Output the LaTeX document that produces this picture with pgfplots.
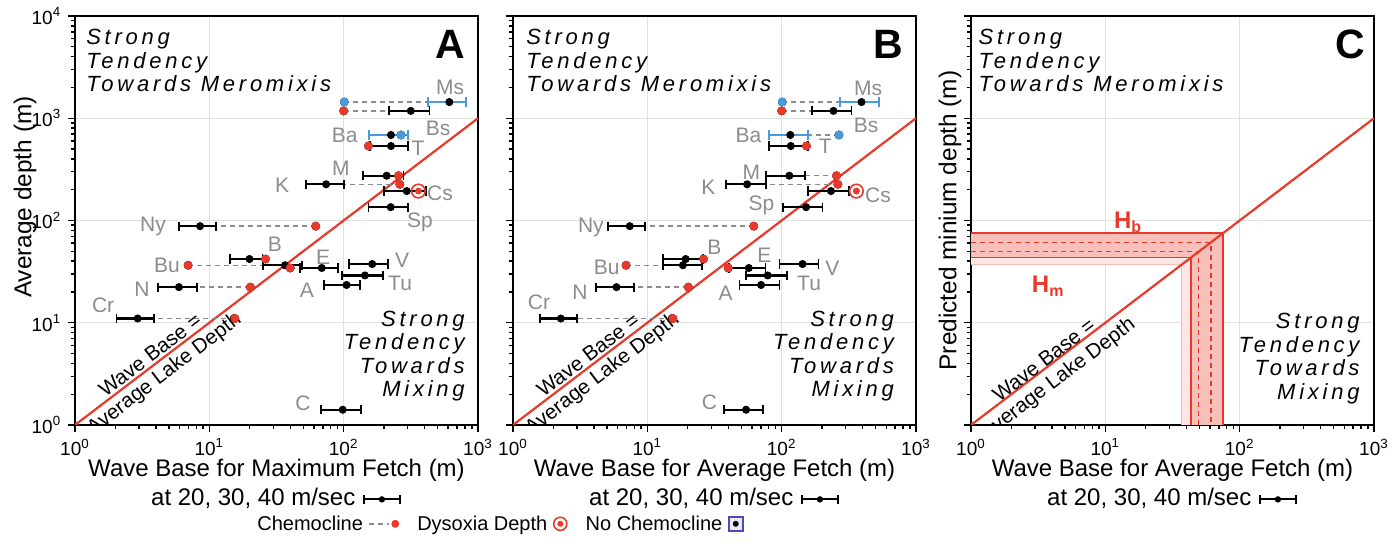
\documentclass[border=0pt]{standalone}
\usepackage{fontspec}
\setmainfont{Liberation Sans}
\newfontfamily\spit[LetterSpace=17]{Liberation Sans}
\usepackage{pgfplots}
\usepackage{pgfplotstable}
\pgfplotsset{compat=1.18}
\definecolor{lred}{HTML}{E8392B}
\definecolor{lblue}{HTML}{4A9BDB}
\definecolor{lgray}{HTML}{8C8C8C}

% ---------- Panel A (maximum fetch) ----------
\pgfplotstableread{
name y lo mid hi
Bs 1180 219 316 435
T 535 157 225 300
M 274 140 209 279
K 226 52.2 74.0 101
Cs 194 200 295 411
Sp 135 153 224 303
Ny 88 5.94 8.53 11.2
B 42 14.3 19.9 24.9
Bu 36.5 25.2 36.6 48.8
E 34.3 47.3 68.7 91.2
V 37.5 110 163 215
Tu 29 96.6 144 197
A 23.4 71.4 105 132
N 22.3 4.13 5.94 8.05
Cr 11 2.04 2.93 3.89
C 1.41 67.9 98.4 135
}\barsA
\pgfplotstableread{
name y lo mid hi
Ms 1440 423 612 815
Ba 686 155 225 303
}\blueA
\pgfplotstableread{
name y x to
Bs 1180 100 219
T 535 153 157
M 274 256 209
K 226 262 101
Ny 88 62 11.2
B 42 26.2 24.9
Bu 36.5 6.95 25.2
E 34.3 40 47.3
N 22.3 20.2 8.05
Cr 11 15.5 3.89
}\chemA
\pgfplotstableread{
name y x to
Ms 1440 101 423
Ba 686 267 303
}\bchemA

% ---------- Panel B (average fetch) ----------
\pgfplotstableread{
name y lo mid hi
Bs 1180 168 243 331
T 535 81 117 158
M 274 76.6 114 150
K 226 38.6 55.3 76.6
Cs 194 156 233 318
Sp 135 102 152 201
Ny 88 5.11 7.40 9.66
B 42 13.1 19.3 25.9
Bu 36.5 13.1 18.4 25.5
E 34.3 40.4 56.9 75.7
V 37.5 96.2 143 188
Tu 29 54.3 78.7 109
A 23.4 48.5 70.3 96.2
N 22.3 4.13 5.89 7.91
Cr 11 1.58 2.27 3.01
C 1.41 37.1 54.3 72.3
}\barsB
\pgfplotstableread{
name y lo mid hi
Ms 1440 273 393 531
Ba 686 80 116 158
}\blueB
\pgfplotstableread{
name y x to
Bs 1180 100 168
T 535 153 158
M 274 256 150
K 226 262 76.6
Ny 88 62 9.66
B 42 26.2 25.9
Bu 36.5 6.95 13.1
E 34.3 40 40.4
N 22.3 20.2 7.91
Cr 11 15.5 3.01
}\chemB
\pgfplotstableread{
name y x to
Ms 1440 101 273
Ba 686 267 158
}\bchemB

\pgfplotsset{
  log basis x=10, log basis y=10,
  scale only axis, width=201.5pt, height=204.5pt,
  xmin=1, xmax=1000, ymin=1, ymax=10000,
  xtick={1,10,100,1000}, ytick={1,10,100,1000,10000},
  minor xtick={2,3,4,5,6,7,8,9,20,30,40,50,60,70,80,90,200,300,400,500,600,700,800,900},
  minor ytick={2,3,4,5,6,7,8,9,20,30,40,50,60,70,80,90,200,300,400,500,600,700,800,900,2000,3000,4000,5000,6000,7000,8000,9000},
  xtick pos=bottom, ytick pos=left,
  grid=major, major grid style={black!12, line width=0.6pt},
  minor grid style={draw=none},
  axis line style={line width=1pt},
  tick align=outside, major tick length=3.4pt, minor tick length=2.2pt,
  tick style={black, line width=0.7pt},
  xticklabel={10\textsuperscript{\pgfmathparse{int(round(\tick))}\pgfmathresult}},
  yticklabel={10\textsuperscript{\pgfmathparse{int(round(\tick))}\pgfmathresult}},
  ticklabel style={font=\fontsize{9.5}{10}\selectfont},
  xlabel style={font=\fontsize{12}{14.5}\selectfont, align=center,
    at={(axis description cs:0.5,-0.083)}, anchor=north, inner sep=0pt},
  ylabel style={font=\fontsize{12.2}{14}\selectfont},
  diag/.style={lred, line width=1.1pt},
  links/.style={only marks, mark=none, forget plot,
    error bars/x dir=both, error bars/x explicit, error bars/error mark=none,
    error bars/error bar style={draw=lgray, dash pattern=on 2.5pt off 2pt, line width=0.7pt}},
  bars/.style={only marks, mark=*, mark size=1.8pt, black,
    error bars/x dir=both, error bars/x explicit, error bars/error mark=none,
    error bars/error bar style={line width=1.1pt, draw=#1}},
  ends/.style={only marks, mark=|, mark size=2.3pt, #1, mark options={line width=0.9pt}},
  chemdot/.style={only marks, mark=*, mark size=2pt, #1, mark options={fill=#1, draw=#1}},
}
\tikzset{
  lbl/.style={text=lgray, font=\fontsize{10.5}{12}\selectfont, inner sep=0pt},
  topnote/.style={font=\spit\itshape\fontsize{11}{11.7}\selectfont, align=left, inner sep=0pt, anchor=north west},
  botnote/.style={font=\spit\itshape\fontsize{11}{11.7}\selectfont, align=right, inner sep=0pt, anchor=south east},
  letter/.style={font=\bfseries\fontsize{20.5}{21}\selectfont, inner sep=0pt, anchor=north east},
  wb/.style={font=\fontsize{10.3}{11.2}\selectfont, align=center, rotate=37.3, inner sep=0pt},
}

\begin{document}%
\newsavebox\ebar%
\sbox\ebar{\tikz[baseline=-0.6ex]{\draw[line width=0.9pt] (0,0)--(19pt,0);
  \draw[line width=0.7pt] (0.5pt,-2.4pt)--(0.5pt,2.4pt) (18.5pt,-2.4pt)--(18.5pt,2.4pt);
  \fill (9.5pt,0) circle (1.6pt);}}%
\newsavebox\chemg%
\sbox\chemg{\tikz[baseline=-0.6ex]{\draw[lgray, dash pattern=on 2.5pt off 2pt, line width=0.7pt] (0,0)--(10pt,0);
  \fill[lred] (13pt,0) circle (2pt);}}%
\newsavebox\dysg%
\sbox\dysg{\tikz[baseline=-0.6ex]{\draw[lred, line width=0.8pt] (0,0) circle (3.3pt); \fill[lred] (0,0) circle (1.5pt);}}%
\newsavebox\nog%
\sbox\nog{\tikz[baseline=-0.6ex]{\draw[blue!60!black!70, line width=0.8pt, fill=blue!8] (-3.5pt,-3.5pt) rectangle (3.5pt,3.5pt); \fill (0,0) circle (1.5pt);}}%
\begin{tikzpicture}

% ===================== A =====================
\begin{loglogaxis}[at={(37.5pt,59.5pt)}, anchor=south west,
  xlabel={Wave Base for Maximum Fetch (m)\\at 20, 30, 40 m/sec\ \usebox\ebar},
  ylabel={Average depth (m)},
  ylabel style={at={(axis description cs:-0.124,0.557)}, anchor=center}]
\addplot[diag] coordinates {(1,1) (1000,1000)};
\addplot[links] table[x=x, y=y, x error plus expr={max(\thisrow{to}-\thisrow{x},0)}, x error minus expr={max(\thisrow{x}-\thisrow{to},0)}] {\chemA};
\addplot[links] table[x=x, y=y, x error plus expr={max(\thisrow{to}-\thisrow{x},0)}, x error minus expr={max(\thisrow{x}-\thisrow{to},0)}] {\bchemA};
\addplot[bars=black] table[x=mid, y=y, x error plus expr={\thisrow{hi}-\thisrow{mid}}, x error minus expr={\thisrow{mid}-\thisrow{lo}}] {\barsA};
\addplot[bars=lblue] table[x=mid, y=y, x error plus expr={\thisrow{hi}-\thisrow{mid}}, x error minus expr={\thisrow{mid}-\thisrow{lo}}] {\blueA};
\addplot[ends=black] table[x=lo, y=y] {\barsA};
\addplot[ends=black] table[x=hi, y=y] {\barsA};
\addplot[ends=lblue] table[x=lo, y=y] {\blueA};
\addplot[ends=lblue] table[x=hi, y=y] {\blueA};
\addplot[chemdot=lred] table[x=x, y=y] {\chemA};
\addplot[chemdot=lblue] table[x=x, y=y] {\bchemA};
\addplot[only marks, mark=o, mark size=3.4pt, lred, line width=0.8pt, mark options={fill=white}] coordinates {(360,194)};
\addplot[only marks, mark=*, mark size=1.5pt, lred] coordinates {(360,194)};
\node[lbl] at (axis cs:619,2021) {Ms};
\node[lbl] at (axis cs:504,803) {Bs};
\node[lbl] at (axis cs:102,686) {Ba};
\node[lbl] at (axis cs:358,512) {T};
\node[lbl] at (axis cs:95.5,326) {M};
\node[lbl] at (axis cs:34.8,222) {K};
\node[lbl] at (axis cs:521,186) {Cs};
\node[lbl] at (axis cs:370,96.7) {Sp};
\node[lbl] at (axis cs:3.81,88.3) {Ny};
\node[lbl] at (axis cs:30.8,58.9) {B};
\node[lbl] at (axis cs:70.2,44) {E};
\node[lbl] at (axis cs:4.84,36.7) {Bu};
\node[lbl] at (axis cs:272,41.1) {V};
\node[lbl] at (axis cs:263,24.5) {Tu};
\node[lbl] at (axis cs:53.3,20.9) {A};
\node[lbl] at (axis cs:3.15,21.4) {N};
\node[lbl] at (axis cs:1.62,14.9) {Cr};
\node[lbl] at (axis cs:49.8,1.64) {C};
\node[wb] at (axis cs:4.15,3.8) {Wave Base =\\Average Lake Depth};
\node[topnote] at (rel axis cs:0.027,0.968) {Strong\\Tendency\\Towards Meromixis};
\node[botnote] at (rel axis cs:0.968,0.057) {Strong\\Tendency\\Towards\\Mixing};
\node[letter] at (rel axis cs:0.968,0.966) {A};
\end{loglogaxis}

% ===================== B =====================
\begin{loglogaxis}[at={(256.5pt,59.5pt)}, anchor=south west,
  xlabel={Wave Base for Average Fetch (m)\\at 20, 30, 40 m/sec\ \usebox\ebar},
  yticklabel=\empty]
\addplot[diag] coordinates {(1,1) (1000,1000)};
\addplot[links] table[x=x, y=y, x error plus expr={max(\thisrow{to}-\thisrow{x},0)}, x error minus expr={max(\thisrow{x}-\thisrow{to},0)}] {\chemB};
\addplot[links] table[x=x, y=y, x error plus expr={max(\thisrow{to}-\thisrow{x},0)}, x error minus expr={max(\thisrow{x}-\thisrow{to},0)}] {\bchemB};
\addplot[bars=black] table[x=mid, y=y, x error plus expr={\thisrow{hi}-\thisrow{mid}}, x error minus expr={\thisrow{mid}-\thisrow{lo}}] {\barsB};
\addplot[bars=lblue] table[x=mid, y=y, x error plus expr={\thisrow{hi}-\thisrow{mid}}, x error minus expr={\thisrow{mid}-\thisrow{lo}}] {\blueB};
\addplot[ends=black] table[x=lo, y=y] {\barsB};
\addplot[ends=black] table[x=hi, y=y] {\barsB};
\addplot[ends=lblue] table[x=lo, y=y] {\blueB};
\addplot[ends=lblue] table[x=hi, y=y] {\blueB};
\addplot[chemdot=lred] table[x=x, y=y] {\chemB};
\addplot[chemdot=lblue] table[x=x, y=y] {\bchemB};
\addplot[only marks, mark=o, mark size=3.4pt, lred, line width=0.8pt, mark options={fill=white}] coordinates {(360,194)};
\addplot[only marks, mark=*, mark size=1.5pt, lred] coordinates {(360,194)};
\node[lbl] at (axis cs:440,1977) {Ms};
\node[lbl] at (axis cs:425,859) {Bs};
\node[lbl] at (axis cs:56.5,686) {Ba};
\node[lbl] at (axis cs:211,535) {T};
\node[lbl] at (axis cs:59.5,298) {M};
\node[lbl] at (axis cs:28.5,213) {K};
\node[lbl] at (axis cs:522,178) {Cs};
\node[lbl] at (axis cs:70.6,142) {Sp};
\node[lbl] at (axis cs:3.8,86.3) {Ny};
\node[lbl] at (axis cs:31.6,55) {B};
\node[lbl] at (axis cs:4.99,35.1) {Bu};
\node[lbl] at (axis cs:74.3,46) {E};
\node[lbl] at (axis cs:238,34.3) {V};
\node[lbl] at (axis cs:160,24.5) {Tu};
\node[lbl] at (axis cs:38.2,19.5) {A};
\node[lbl] at (axis cs:3.15,20) {N};
\node[lbl] at (axis cs:1.56,16) {Cr};
\node[lbl] at (axis cs:29,1.68) {C};
\node[wb] at (axis cs:4.15,3.8) {Wave Base =\\Average Lake Depth};
\node[topnote] at (rel axis cs:0.032,0.968) {Strong\\Tendency\\Towards Meromixis};
\node[botnote] at (rel axis cs:0.946,0.057) {Strong\\Tendency\\Towards\\Mixing};
\node[letter] at (rel axis cs:0.97,0.966) {B};
\end{loglogaxis}

% ===================== C =====================
\begin{loglogaxis}[at={(485.5pt,59.5pt)}, anchor=south west,
  xlabel={Wave Base for Average Fetch (m)\\at 20, 30, 40 m/sec\ \usebox\ebar},
  ylabel={Predicted minium depth (m)},
  ylabel style={at={(axis description cs:-0.052,0.5)}, anchor=center},
  yticklabel=\empty]
\addplot[fill=lred!12, draw=none] coordinates {(1,37.2) (37.2,37.2) (43.3,43.3) (1,43.3)} -- cycle;
\addplot[fill=lred!12, draw=none] coordinates {(37.2,1) (43.3,1) (43.3,43.3) (37.2,37.2)} -- cycle;
\addplot[fill=lred!32, draw=none] coordinates {(1,43.3) (43.3,43.3) (75,75) (1,75)} -- cycle;
\addplot[fill=lred!32, draw=none] coordinates {(43.3,1) (75,1) (75,75) (43.3,43.3)} -- cycle;
\addplot[lred!35, line width=0.5pt] coordinates {(1,37.2) (37.2,37.2) (37.2,1)};
\addplot[lred, line width=0.8pt] coordinates {(1,75) (75,75) (75,1)};
\addplot[lred, line width=0.8pt] coordinates {(1,43.3) (43.3,43.3) (43.3,1)};
\addplot[lred, dash pattern=on 2.5pt off 2pt, line width=0.7pt] coordinates {(1,61) (61,61) (61,1)};
\addplot[lred, dash pattern=on 2.5pt off 2pt, line width=0.7pt] coordinates {(1,49.5) (49.5,49.5) (49.5,1)};
\addplot[diag] coordinates {(1,1) (1000,1000)};
\node[text=lred, font=\bfseries\fontsize{12}{12}\selectfont] at (axis cs:14.8,95.6) {H\textsubscript{b}};
\node[text=lred, font=\bfseries\fontsize{12}{12}\selectfont] at (axis cs:3.76,22.7) {H\textsubscript{m}};
\node[wb] at (axis cs:4.0,3.4) {Wave Base =\\Average Lake Depth};
\node[topnote] at (rel axis cs:0.018,0.968) {Strong\\Tendency\\Towards Meromixis};
\node[botnote] at (rel axis cs:0.965,0.051) {Strong\\Tendency\\Towards\\Mixing};
\node[letter] at (rel axis cs:0.978,0.966) {C};
\end{loglogaxis}

% legend row
\node[font=\fontsize{10}{12}\selectfont, inner sep=0pt, anchor=west] at (128.5pt,9.5pt)
  {Chemocline\ \usebox\chemg\hspace{9pt}Dysoxia Depth\ \usebox\dysg\hspace{9pt}No Chemocline\ \usebox\nog};

\pgfresetboundingbox
\path[use as bounding box] (0,0) rectangle (696pt,272pt);
\end{tikzpicture}%
\end{document}
